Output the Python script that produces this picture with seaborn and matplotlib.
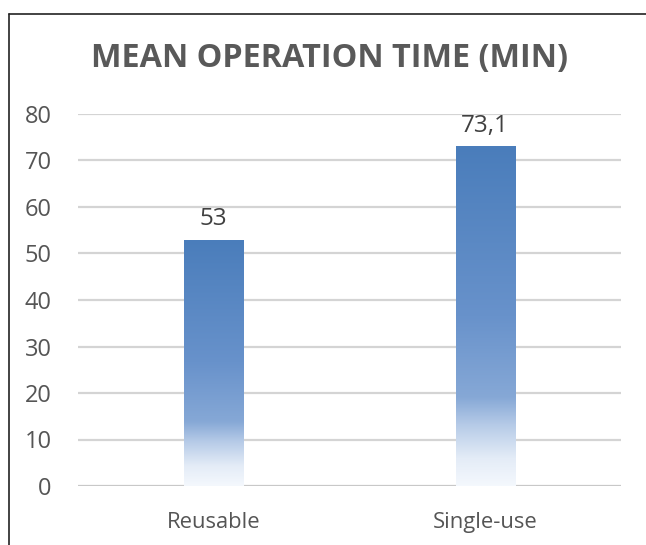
import numpy as np
import pandas as pd
import matplotlib
matplotlib.use("Agg")
import matplotlib.pyplot as plt
from matplotlib.colors import LinearSegmentedColormap
from matplotlib.lines import Line2D
import seaborn as sns

# Data
categories = ["Reusable", "Single-use"]
mean_minutes = [53, 73.1]
y_ticks = [0, 10, 20, 30, 40, 50, 60, 70, 80]
title_text = "MEAN OPERATION TIME (MIN)"

df = pd.DataFrame({"group": categories, "minutes": mean_minutes})

sns.set_theme(style="white")
plt.rcParams["font.family"] = ["Open Sans", "DejaVu Sans"]

fig = plt.figure(figsize=(6.46, 5.45), dpi=100)
fig.patch.set_facecolor("white")
ax = fig.add_axes([78 / 646, 59 / 545, 543 / 646, 372 / 545])
ax.set_facecolor("none")

sns.barplot(data=df, x="group", y="minutes", width=0.218, color="#4a7dbb",
            ax=ax, zorder=3)

ax.set_ylim(0, 80)
ax.set_xlim(-0.5, 1.5)
ax.set_yticks(y_ticks)
ax.set_yticklabels([str(t) for t in y_ticks])
ax.set_xlabel("")
ax.set_ylabel("")

# gridlines
for t in y_ticks:
    ax.axhline(t, color="#d4d4d4" if t else "#c8c8c8", lw=1.6, zorder=1)

for s in ax.spines.values():
    s.set_visible(False)
ax.tick_params(axis="y", length=0, pad=19, labelsize=17, labelcolor="#555555")
ax.tick_params(axis="x", length=0, pad=19, labelsize=15.8, labelcolor="#555555")

# vertical gradient fill for each bar (dark at top, fading to white at the base)
grad = LinearSegmentedColormap.from_list(
    "bar_fade",
    [(0.0, "#f4f8fd"), (0.08, "#e4ecf7"), (0.18, "#b5cae7"),
     (0.26, "#86a8d6"), (0.5, "#6892cb"), (1.0, "#4a7dbb")])
gimg = np.linspace(0, 1, 256).reshape(-1, 1)
for patch in ax.patches:
    x0, y0 = patch.get_x(), patch.get_y()
    w, h = patch.get_width(), patch.get_height()
    patch.set_facecolor("none")
    patch.set_edgecolor("none")
    im = ax.imshow(gimg, cmap=grad, origin="lower", aspect="auto",
                   extent=[x0, x0 + w, y0, y0 + h], zorder=3,
                   interpolation="bilinear")
    im.set_clip_path(patch)
ax.set_xlim(-0.5, 1.5)
ax.set_ylim(0, 80)

# value labels
labels = [f"{v:g}".replace(".", ",") for v in mean_minutes]
ax.bar_label(ax.containers[0], labels=labels, padding=6, fontsize=17.5,
             color="#404040")

fig.text(0.5 * (93 + 566) / 646, 1 - 58.5 / 545, title_text, ha="center",
         va="center", fontsize=23.3, fontweight="bold", color="#595959")

# chart frame
fig.add_artist(Line2D([9 / 646, 1.02], [1 - 14 / 545, 1 - 14 / 545],
                      transform=fig.transFigure, color="#222222", lw=1.2))
fig.add_artist(Line2D([9 / 646, 9 / 646], [-0.02, 1 - 14 / 545],
                      transform=fig.transFigure, color="#222222", lw=1.2))

fig.savefig("out.png", dpi=100, facecolor="white")
